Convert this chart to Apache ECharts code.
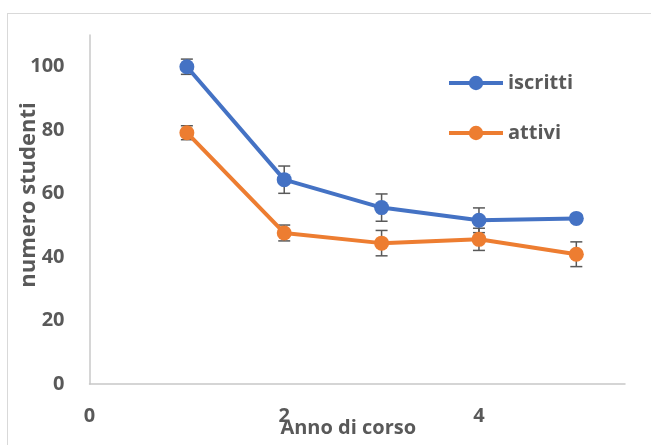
<!DOCTYPE html>
<html><head><meta charset="utf-8">
<script src="https://cdn.jsdelivr.net/npm/echarts@6/dist/echarts.min.js"></script>
<style>
html,body{margin:0;padding:0;background:#fff;overflow:hidden}
#c{width:651px;height:445px;position:absolute;left:0;top:0}
#frame{position:absolute;left:7px;top:13px;width:700px;height:500px;border:1px solid #d9d9d9;pointer-events:none;box-sizing:border-box}
</style></head><body>
<div id="c"></div><div id="frame"></div>
<script>
const years = [1, 2, 3, 4, 5];
const iscritti = [100, 64.4, 55.6, 51.6, 52.2];
const attivi = [79.2, 47.6, 44.4, 45.6, 40.9];
const errIscritti = [2.4, 4.3, 4.3, 3.9, 1.0];
const errAttivi = [2.2, 2.5, 4.0, 3.5, 3.9];
const xTickLabels = [0, 2, 4];
const yTickLabels = [0, 20, 40, 60, 80, 100];

const FONT = "'Open Sans', 'Noto Sans', sans-serif";
const TXT = '#595959';
const chart = echarts.init(document.getElementById('c'), null, {renderer: 'canvas'});

function errRender(params, api) {
  const x = api.value(0), lo = api.value(1), hi = api.value(2);
  const pLo = api.coord([x, lo]), pHi = api.coord([x, hi]);
  const w = 6;
  const style = {stroke: '#595959', lineWidth: 1.5};
  return {type: 'group', children: [
    {type: 'line', shape: {x1: pLo[0], y1: pLo[1], x2: pHi[0], y2: pHi[1]}, style},
    {type: 'line', shape: {x1: pLo[0] - w, y1: pLo[1], x2: pLo[0] + w, y2: pLo[1]}, style},
    {type: 'line', shape: {x1: pHi[0] - w, y1: pHi[1], x2: pHi[0] + w, y2: pHi[1]}, style}
  ]};
}
function errData(vals, errs) {
  return years.map((x, i) => [x, vals[i] - errs[i], vals[i] + errs[i]]);
}

chart.setOption({
  animation: false,
  backgroundColor: '#fff',
  grid: {left: 89.5, right: 26, top: 35, bottom: 61, containLabel: false, outerBoundsMode: 'none'},
  legend: {
    orient: 'vertical', left: 442, top: 68,
    itemWidth: 54, itemHeight: 18, itemGap: 30,
    data: ['iscritti', 'attivi'],
    lineStyle: {width: 4},
    textStyle: {color: TXT, fontSize: 20, fontWeight: 'bold', fontFamily: FONT}
  },
  xAxis: {
    type: 'value', min: 0, max: 5.5, interval: 2,
    name: 'Anno di corso', nameLocation: 'middle', nameGap: 34, nameMoveOverlap: false,
    nameTextStyle: {color: TXT, fontSize: 20, fontWeight: 'bold', fontFamily: FONT, padding: [0, 18, 0, 0]},
    axisLine: {show: true, onZero: false, lineStyle: {color: '#c8c8c8', width: 1.5}},
    axisTick: {show: false},
    splitLine: {show: false},
    axisLabel: {
      showMaxLabel: false, margin: 22,
      color: TXT, fontSize: 20, fontWeight: 'bold', fontFamily: FONT,
      formatter: v => xTickLabels.includes(v) ? String(v) : ''
    }
  },
  yAxis: {
    type: 'value', min: 0, max: 110, interval: 20,
    name: 'numero studenti', nameLocation: 'middle', nameGap: 50, nameMoveOverlap: false,
    nameTextStyle: {color: TXT, fontSize: 22, fontWeight: 'bold', fontFamily: FONT, padding: [0, 0, 0, 29]},
    axisLine: {show: true, lineStyle: {color: '#c8c8c8', width: 1.5}},
    axisTick: {show: false},
    splitLine: {show: false},
    axisLabel: {
      showMaxLabel: false, margin: 25,
      color: TXT, fontSize: 20, fontWeight: 'bold', fontFamily: FONT,
      formatter: v => yTickLabels.includes(v) ? String(v) : ''
    }
  },
  series: [
    {
      name: 'iscritti', type: 'line', z: 3,
      data: years.map((x, i) => [x, iscritti[i]]),
      symbol: 'circle', symbolSize: 15,
      itemStyle: {color: '#4472C4'},
      lineStyle: {color: '#4472C4', width: 4}
    },
    {
      name: 'attivi', type: 'line', z: 3,
      data: years.map((x, i) => [x, attivi[i]]),
      symbol: 'circle', symbolSize: 15,
      itemStyle: {color: '#ED7D31'},
      lineStyle: {color: '#ED7D31', width: 4}
    },
    {
      type: 'custom', z: 2, clip: false,
      renderItem: errRender,
      encode: {x: 0, y: [1, 2]},
      data: errData(iscritti, errIscritti)
    },
    {
      type: 'custom', z: 2, clip: false,
      renderItem: errRender,
      encode: {x: 0, y: [1, 2]},
      data: errData(attivi, errAttivi)
    }
  ]
});
</script>
</body></html>
